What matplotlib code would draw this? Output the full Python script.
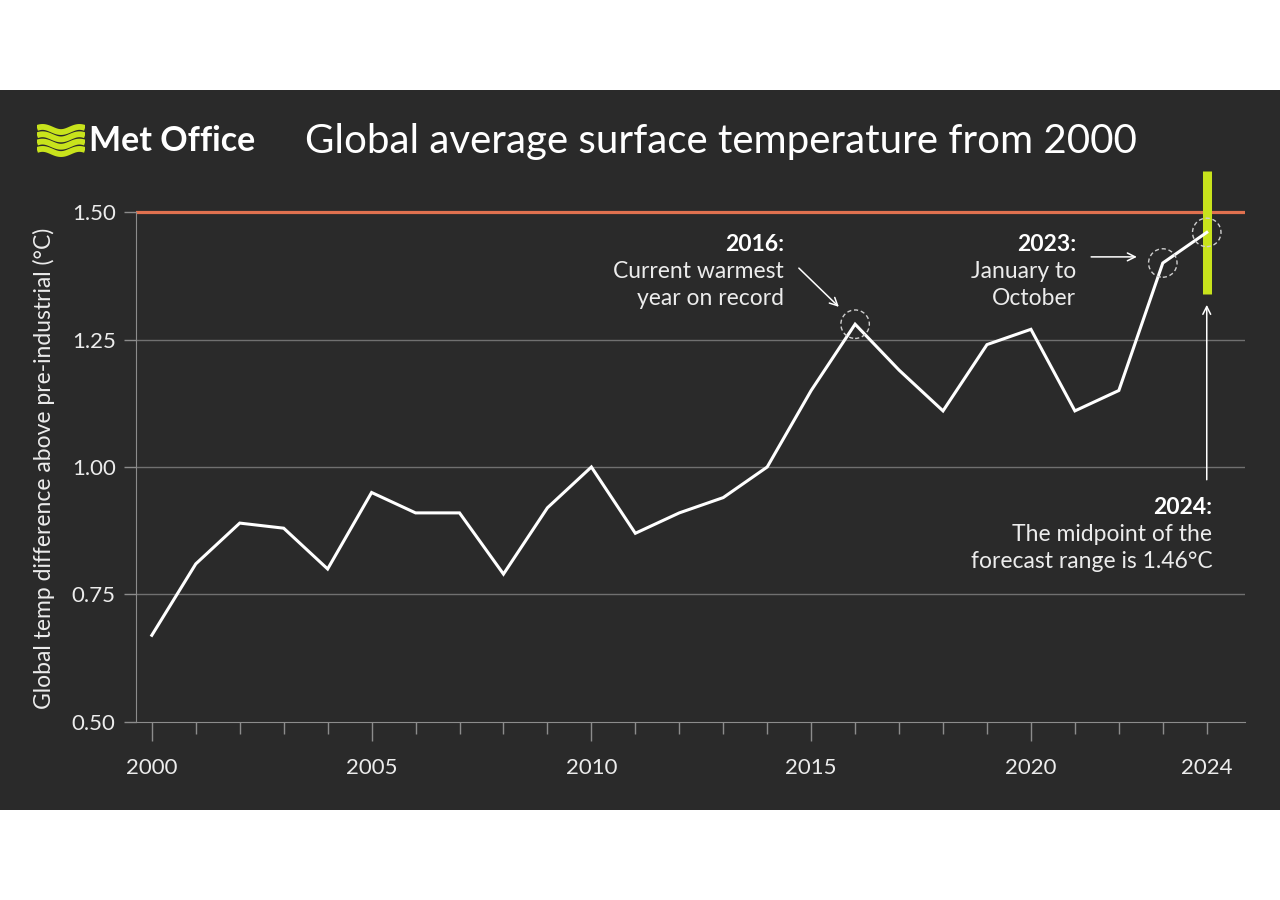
import numpy as np
import matplotlib.pyplot as plt
from matplotlib.patches import Rectangle

# annual global mean temperature above pre-industrial (degC)
years = list(range(2000, 2025))
temps = [0.67, 0.81, 0.89, 0.88, 0.80, 0.95, 0.91, 0.91, 0.79, 0.92,
         1.00, 0.87, 0.91, 0.94, 1.00, 1.15, 1.28, 1.19, 1.11, 1.24,
         1.27, 1.11, 1.15, 1.40, 1.46]
forecast_year = 2024
forecast_low = 1.34
forecast_high = 1.58
limit_15 = 1.50
yticks = [0.50, 0.75, 1.00, 1.25, 1.50]
xlabel_years = [2000, 2005, 2010, 2015, 2020, 2024]
circled = [2016, 2023, 2024]

BG = '#2a2a2a'
LIME = '#c8e31c'
GREY = '#8c8c8c'
TXT = '#ececec'

plt.rcParams['font.family'] = ['Lato', 'DejaVu Sans']

fig = plt.figure(figsize=(12.8, 9), dpi=100, facecolor='white')
fig.patches.append(Rectangle((0, 0.1), 1, 0.8, transform=fig.transFigure,
                             facecolor=BG, edgecolor='none', zorder=-1))

ax = fig.add_axes([0.10625, 0.1978, 0.8664, 0.6233])
ax.set_facecolor('none')
ax.set_xlim(1999.64, 2024.87)
ax.set_ylim(0.5, 1.6)

for s in ['top', 'right']:
    ax.spines[s].set_visible(False)
ax.spines['left'].set_bounds(0.5, 1.5)
ax.spines['left'].set_color(GREY)
ax.spines['bottom'].set_color(GREY)

ax.set_yticks(yticks)
ax.set_yticklabels(['%.2f' % v for v in yticks])
ax.tick_params(axis='y', length=8.6, width=1, color=GREY, pad=6, labelcolor=TXT, labelsize=16)

ax.set_xticks(xlabel_years)
ax.set_xticklabels([str(y) for y in xlabel_years])
ax.set_xticks(years, minor=True)
ax.tick_params(axis='x', which='major', length=13.7, width=1, color=GREY, pad=12,
               labelcolor=TXT, labelsize=16)
ax.tick_params(axis='x', which='minor', length=8.6, width=1, color=GREY)
ax.xaxis.get_major_ticks()[-1].tick1line.set_markersize(8.6)

for v in yticks[1:-1]:
    ax.axhline(v, color='#707070', lw=1, zorder=1)
ax.axhline(limit_15, color='#e0714f', lw=2.3, zorder=2)

ax.vlines(forecast_year, forecast_low, forecast_high, color=LIME, lw=6.5, zorder=3)
ax.plot(years, temps, color='white', lw=2.2, zorder=4, solid_joinstyle='miter')

cy = [temps[years.index(y)] for y in circled]
ax.scatter(circled, cy, s=420, facecolors='none', edgecolors='#cfcfcf',
           linewidths=1, linestyles=(0, (3, 2)), zorder=5)

# annotations
arrow = dict(arrowstyle='->', color='white', lw=1.1, shrinkA=0, shrinkB=0,
             mutation_scale=14)
ax.annotate('', xy=(2015.63, 1.314), xytext=(2014.72, 1.390), arrowprops=arrow)
ax.annotate('', xy=(2022.41, 1.412), xytext=(2021.37, 1.412), arrowprops=arrow)
ax.annotate('', xy=(2024, 1.318), xytext=(2024, 0.975), arrowprops=arrow)

def note(x, y, head, lines):
    ax.text(x, y, head, ha='right', va='center', fontsize=16.5, fontweight='bold', color='white')
    for i, ln in enumerate(lines):
        ax.text(x, y - (i + 1) * 0.053, ln, ha='right', va='center', fontsize=16.5, color=TXT)

note(2014.38, 1.437, '2016:', ['Current warmest', 'year on record'])
note(2021.03, 1.437, '2023:', ['January to', 'October'])
note(2024.13, 0.921, '2024:', ['The midpoint of the', 'forecast range is 1.46\u00b0C'])

fig.text(44 / 1280, (900 - 468) / 900, 'Global temp difference above pre-industrial (\u00b0C)',
         rotation=90, ha='center', va='center', fontsize=16.5, color=TXT)

# header
fig.text(305 / 1280, (900 - 142) / 900, 'Global average surface temperature from 2000',
         ha='left', va='center', fontsize=29, fontweight='normal', color='white')
fig.text(89 / 1280, (900 - 141) / 900, 'Met Office', ha='left', va='center',
         fontsize=24.5, fontweight='bold', color='white')

icon = fig.add_axes([37 / 1280, (900 - 157) / 900, 48 / 1280, 33 / 900])
icon.set_axis_off()
t = np.linspace(0, 1, 60)
for k in range(4):
    icon.plot(t, 0.8 - k * 0.2 + 0.07 * np.sin(2 * np.pi * (t * 1.3 + 0.1)),
              color=LIME, lw=4.2, solid_capstyle='butt')
icon.set_xlim(0, 1)
icon.set_ylim(0.05, 0.95)

fig.savefig('out.png', dpi=100, facecolor='white')
